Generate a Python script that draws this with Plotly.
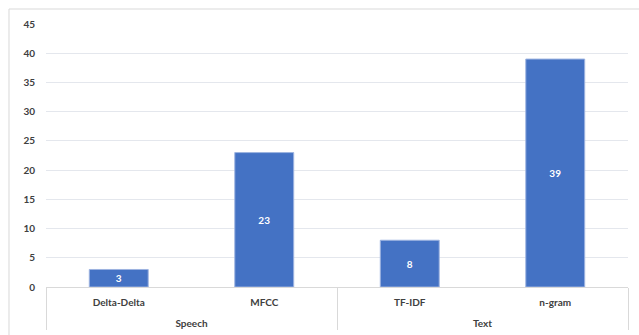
import plotly.graph_objects as go

# Feature-extraction methods grouped by modality
groups = ["Speech", "Speech", "Text", "Text"]
methods = ["Delta-Delta", "MFCC", "TF-IDF", "n-gram"]
counts = [3, 23, 8, 39]

y_ticks = list(range(0, 50, 5))

# group labels sit one short line lower than the method labels
group_labels = ["<span style='font-size:10px'> </span><br>" + g for g in groups]

fig = go.Figure(
    go.Bar(
        x=[group_labels, methods],
        y=counts,
        text=[str(v) for v in counts],
        textposition="inside",
        insidetextanchor="middle",
        textangle=0,
        constraintext="none",
        textfont=dict(color="white", size=10, family="Lato", weight="bold"),
        marker=dict(color="#4472c4", line=dict(color="#9db3e0", width=1)),
        width=0.405,
    )
)

fig.update_layout(
    width=639,
    height=335,
    margin=dict(l=46, r=11, t=24, b=48),
    paper_bgcolor="white",
    plot_bgcolor="white",
    showlegend=False,
    font=dict(family="Lato", size=10, color="#404040"),
    shapes=[
        # outer chart frame (left and top edges)
        dict(type="line", xref="paper", yref="paper",
             x0=-0.0636, x1=-0.0636, y0=1.057, y1=-0.3,
             line=dict(color="#d9d9d9", width=1)),
        dict(type="line", xref="paper", yref="paper",
             x0=-0.0636, x1=1.05, y0=1.057, y1=1.057,
             line=dict(color="#d9d9d9", width=1)),
    ],
)

fig.update_xaxes(
    type="multicategory",
    automargin=False,
    showline=True,
    linecolor="#d9d9d9",
    linewidth=1,
    showdividers=True,
    dividercolor="#d9d9d9",
    dividerwidth=1,
    ticks="",
    ticklabelstandoff=6,
    tickfont=dict(size=10, color="#404040", weight="bold"),
)

fig.update_yaxes(
    range=[0, 45],
    tickvals=y_ticks,
    automargin=False,
    showgrid=True,
    gridcolor="#e4e7ed",
    gridwidth=1,
    zeroline=False,
    showline=False,
    ticks="",
    ticklabelstandoff=10,
    tickfont=dict(size=10, color="#404040", weight="bold"),
)

fig.write_html("out.html")
